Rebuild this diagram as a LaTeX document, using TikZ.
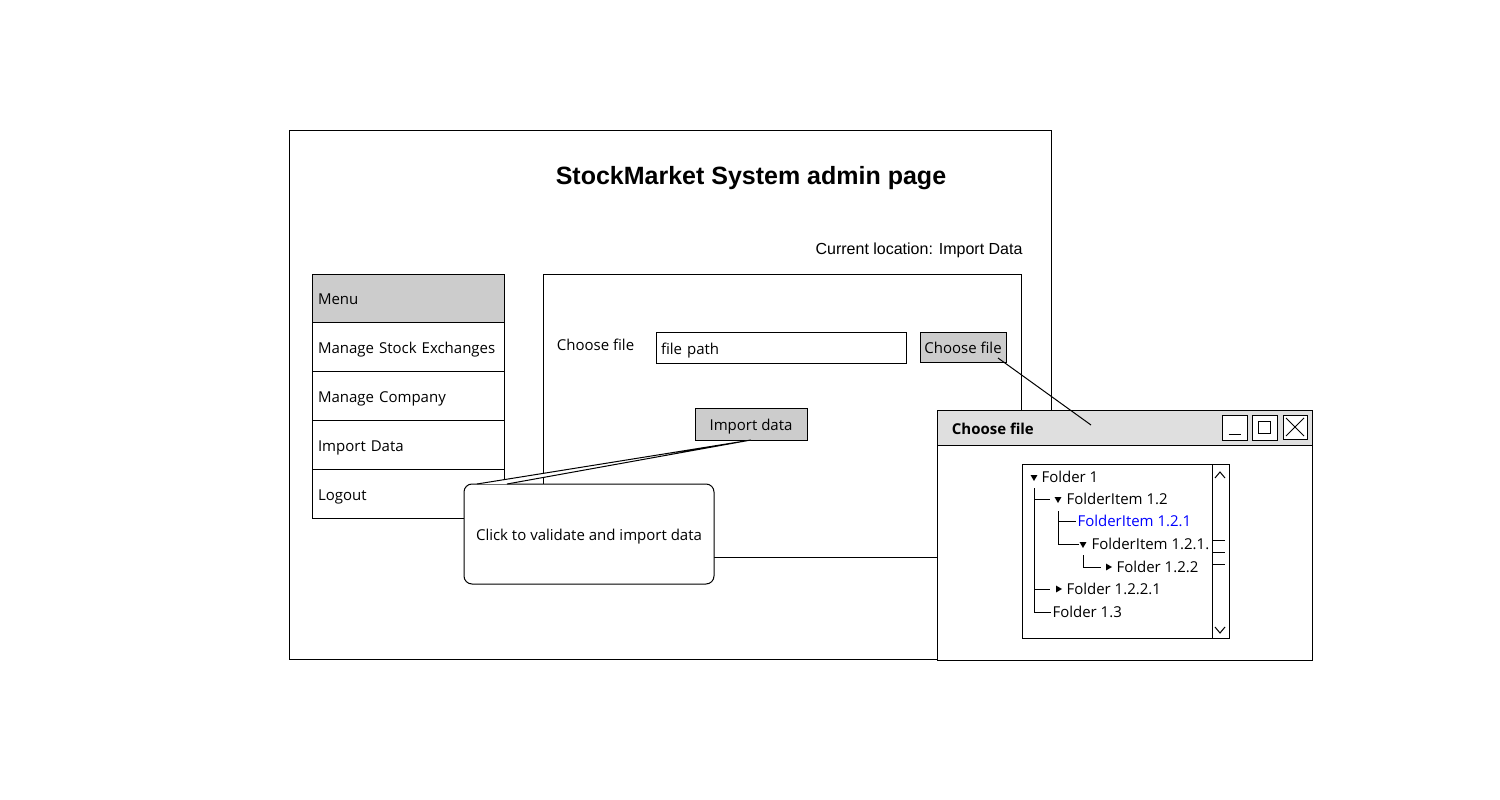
\documentclass[tikz,border=0pt]{standalone}
\usepackage{fontspec}
\setmainfont{Liberation Sans}
\newfontfamily\sketch{Open Sans}
\newcommand{\uifont}{\sketch\fontsize{15}{18}\selectfont}
\newcommand{\treefont}{\sketch\fontsize{15}{18}\selectfont}
\usepackage{tikz}
\usetikzlibrary{shapes.geometric, arrows}
\tikzstyle{module} = [rectangle, draw=black, line width=1pt, inner sep=0pt, outer sep=0pt, anchor=north west, text height=14pt, text depth=1pt, font=\uifont]
\usetikzlibrary{positioning, fit, calc}

\begin{document}
\begin{tikzpicture}[x=1pt, y=-1pt, line width=1pt]
        \tikzstyle{menuitem} = [module, minimum width=192pt, minimum height=48.8pt, text width=180pt, inner xsep=6pt, align=left]
        \tikzstyle{button} = [module, fill=gray!40]
        \tikzstyle{winbtn} = [module, minimum size=25pt, fill=white]
        \tikzstyle{item} = [anchor=west, inner sep=1pt, font=\treefont]
        \tikzstyle{tridown} = [regular polygon, regular polygon sides=3, shape border rotate=180, fill=black, inner sep=0pt, minimum size=8pt]
        \tikzstyle{triright} = [tridown, shape border rotate=-90]
        \useasboundingbox (0,0) rectangle (1500,800);

        \node[module, minimum width=762pt, minimum height=529pt] (page) at (289,130) {};
        \node[font=\bfseries\fontsize{25}{30}\selectfont] (title) at (751,178) {StockMarket System admin page};
        \node[anchor=east, inner sep=0pt, font=\fontsize{16}{19}\selectfont] (location) at (1023,250) {Current location: Import Data};

        \node[menuitem, fill=gray!40] (menu) at (312,274) {Menu};
        \node[menuitem, below=0pt of menu] (exchanges) {Manage Stock Exchanges};
        \node[menuitem, below=0pt of exchanges] (company) {Manage Company};
        \node[menuitem, below=0pt of company] (importData) {Import Data};
        \node[menuitem, below=0pt of importData] (logout) {Logout};

        \node[module, minimum width=478pt, minimum height=283pt] (panel) at (543,274) {};
        \node[anchor=west, font=\uifont] (fileLabel) at (553,345) {Choose file};
        \node[module, minimum width=250pt, minimum height=31pt, text width=240pt, inner xsep=5pt, align=left] (filePath) at (656,332) {file path};
        \node[button, minimum width=86pt, minimum height=30pt] (chooseBtn) at (920,332) {Choose file};
        \node[button, minimum width=112pt, minimum height=32pt] (importBtn) at (695,408) {Import data};

        \node[module, rounded corners=8pt, fill=white, minimum width=250pt, minimum height=100pt] (callout) at (464,484) {Click to validate and import data};
        \draw[fill=white] ($(callout.north west)+(13,0)$) -- (importBtn.south) -- ($(callout.north west)+(43,0)$);

        \node[module, fill=white, minimum width=375pt, minimum height=250pt] (dialog) at (937,410) {};
        \node[module, fill=gray!25, minimum width=375pt, minimum height=35pt] (titleBar) at (dialog.north west) {};
        \node[anchor=west, font=\uifont\bfseries] (dialogTitle) at (948,429) {Choose file};
        \node[winbtn] (minBtn) at (1222,415) {};
        \node[winbtn] (maxBtn) at (1252,415) {};
        \node[winbtn, minimum size=24pt] (closeBtn) at (1283,415) {};
        \draw ($(minBtn.south)+(-6,-6)$) -- ($(minBtn.south)+(6,-6)$);
        \draw ($(maxBtn.center)+(-6,-6)$) rectangle ($(maxBtn.center)+(6,6)$);
        \draw ($(closeBtn.north west)+(3,3)$) -- ($(closeBtn.south east)+(-3,-3)$) ($(closeBtn.north east)+(-3,3)$) -- ($(closeBtn.south west)+(3,-3)$);
        \coordinate (pointer) at (1091,425);
        \draw ($(chooseBtn.south east)+(-8,-4)$) -- (pointer);

        % tree view
        \node[module, minimum width=207pt, minimum height=174pt] (tree) at (1022,464) {};
        \draw ($(tree.north east)+(-17,0)$) -- ($(tree.south east)+(-17,0)$);
        \draw (1215,478) -- (1220,472) -- (1225,478);
        \draw (1215,627) -- (1220,633) -- (1225,627);
        \foreach \y in {540,552,564} \draw (1213,\y) -- (1225,\y);

        \node[tridown] (t1) at (1034,477) {};
        \node[item] (folder1) at (1040,477) {Folder 1};
        \node[tridown] (t12) at (1058,499) {};
        \node[item] (item12) at (1065,499) {FolderItem 1.2};
        \node[item, text=blue] (item121) at (1076,521) {FolderItem 1.2.1};
        \node[tridown] (t1211) at (1083,544) {};
        \node[item] (item1211) at (1090,544) {FolderItem 1.2.1.};
        \node[triright] (t122) at (1108,567) {};
        \node[item] (folder122) at (1115,567) {Folder 1.2.2};
        \node[triright] (t1221) at (1058,589) {};
        \node[item] (folder1221) at (1065,589) {Folder 1.2.2.1};
        \node[item] (folder13) at (1051,612) {Folder 1.3};

        \draw (1034,488) -- (1034,612) -- (folder13.west);
        \draw (1034,499) -- (1050,499);
        \draw (1034,589) -- (1050,589);
        \draw (1058,511) -- (1058,544) -- (1079,544);
        \draw (1058,521) -- (item121.west);
        \draw (1083,555) -- (1083,567) -- (1101,567);

    \end{tikzpicture}
\end{document}
